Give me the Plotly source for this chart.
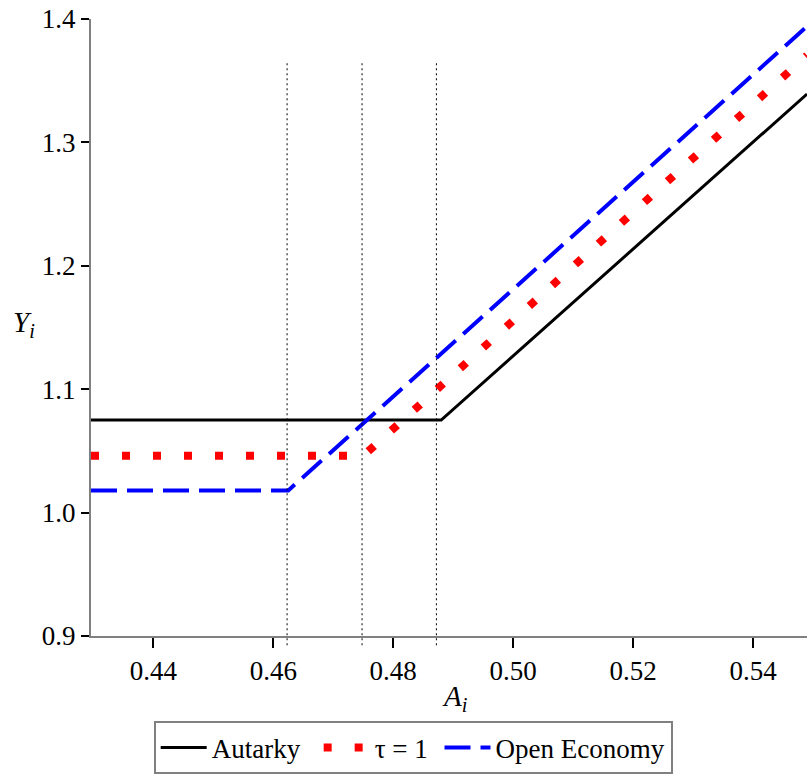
import plotly.graph_objects as go

# Data (breakpoints of each piecewise-linear curve)
autarky_A = [0.4296, 0.4880, 0.5490]
autarky_Y = [1.075, 1.075, 1.3392]
tau_A = [0.4296, 0.4750, 0.5490]
tau_Y = [1.046, 1.046, 1.3705]
open_A = [0.4296, 0.4625, 0.5490]
open_Y = [1.018, 1.018, 1.3940]
thresholds_A = [0.4623, 0.4748, 0.4872]
threshold_top = 1.365
series_names = ["Autarky\u00a0\u00a0", "τ = 1\u00a0", "Open Economy"]
x_ticks = [0.44, 0.46, 0.48, 0.50, 0.52, 0.54]
x_ticklabels = ["0.44", "0.46", "0.48", "0.50", "0.52", "0.54"]
y_ticks = [0.9, 1.0, 1.1, 1.2, 1.3, 1.4]
y_ticklabels = ["0.9", "1.0", "1.1", "1.2", "1.3", "1.4"]

FONT = "Liberation Serif"

fig = go.Figure()
fig.add_trace(go.Scatter(x=autarky_A, y=autarky_Y, mode="lines", name=series_names[0],
                         line=dict(color="black", width=3)))
fig.add_trace(go.Scatter(x=tau_A, y=tau_Y, mode="lines", name=series_names[1],
                         line=dict(color="#ff0000", width=8, dash="8px,23px")))
fig.add_trace(go.Scatter(x=open_A, y=open_Y, mode="lines", name=series_names[2],
                         line=dict(color="#0000ff", width=4, dash="26px,10px")))

for a in thresholds_A:
    fig.add_shape(type="line", xref="x", yref="paper", x0=a, x1=a,
                  y0=-0.015, y1=(threshold_top - 0.9) / 0.5,
                  line=dict(color="black", width=1, dash="2px,3px"))

fig.update_layout(
    width=807, height=776,
    margin=dict(l=91, r=0, t=19, b=140),
    paper_bgcolor="white", plot_bgcolor="white",
    showlegend=True,
    legend=dict(orientation="h", xref="container", yref="container",
                x=0.512, xanchor="center", y=0.002, yanchor="bottom",
                bordercolor="#808080", borderwidth=2, bgcolor="white",
                font=dict(family=FONT, size=27, color="black"),
                itemwidth=46, tracegroupgap=0),
    xaxis=dict(range=[0.4296, 0.5490], tickvals=x_ticks, ticktext=x_ticklabels,
               showgrid=False, zeroline=False, showline=True, linecolor="#808080",
               linewidth=2, ticks="outside", ticklen=10, tickwidth=1.5, tickcolor="black",
               tickfont=dict(family=FONT, size=27, color="black")),
    yaxis=dict(range=[0.9, 1.4], tickvals=y_ticks, ticktext=y_ticklabels,
               showgrid=False, zeroline=False, showline=True, linecolor="#808080",
               linewidth=2, ticks="outside", ticklen=8, tickwidth=1.5, tickcolor="black",
               tickfont=dict(family=FONT, size=27, color="black")),
    annotations=[
        dict(text="<i>A</i><sub><i>i</i></sub>", xref="paper", yref="paper",
             x=0.5086, y=-0.068, xanchor="center", yanchor="top", showarrow=False,
             font=dict(family=FONT, size=29, color="black")),
        dict(text="<i>Y</i><sub><i>i</i></sub>", xref="paper", yref="paper",
             x=-0.094, y=0.505, xanchor="center", yanchor="middle", showarrow=False,
             font=dict(family=FONT, size=29, color="black")),
    ],
)

fig.write_html("out.html")
